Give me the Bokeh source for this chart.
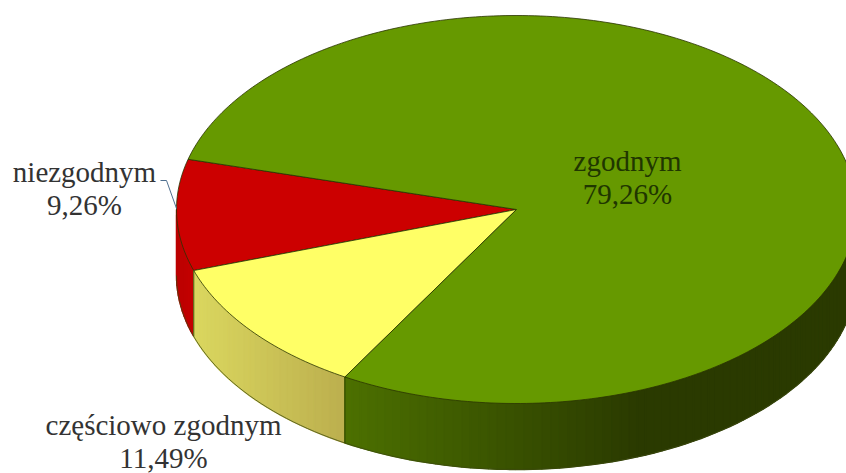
import math
from bokeh.plotting import figure
from bokeh.models import Range1d
from bokeh.core.properties import value
from bokeh.embed import file_html
from bokeh.resources import INLINE

categories = ["niezgodnym", "częściowo zgodnym", "zgodnym"]
shares = [9.26, 11.49, 79.26]
top_colors = ["#cc0000", "#ffff66", "#669900"]
side_left = ["#bb0000", "#dad75f", "#4c7000"]
side_right = ["#c40000", "#bcaf4e", "#2a3a00"]
label_x = [84, 163, 627]
label_y = [171, 424, 160]
label_colors = ["#333333", "#333333", "#203600"]

CX, CY, RX, RY, DEPTH = 516, 209, 340, 194, 66
START = 165.0
FONT = "Liberation Serif"
SHADE_END_X = {0: 194, 1: 345, 2: 640}
SHADE_START_X = {0: 176, 1: 194, 2: 345}


def rim(t):
    r = math.radians(t)
    return CX + RX * math.cos(r), CY - RY * math.sin(r)


def mix(a, b, f):
    f = max(0.0, min(1.0, f))
    ca = [int(a[i:i + 2], 16) for i in (1, 3, 5)]
    cb = [int(b[i:i + 2], 16) for i in (1, 3, 5)]
    return "#%02x%02x%02x" % tuple(round(u + (v - u) * f) for u, v in zip(ca, cb))


total = sum(shares)
bounds = []
a = START
for s in shares:
    bounds.append((a, a + s / total * 360.0))
    a = bounds[-1][1]

p = figure(width=846, height=473, output_backend="svg", toolbar_location=None,
           x_range=Range1d(0, 846), y_range=Range1d(473, 0), min_border=0,
           x_axis_type=None, y_axis_type=None, outline_line_color=None,
           background_fill_color="white", border_fill_color="white")
p.grid.visible = False

# side wall, as narrow shaded strips over the visible half
sx, sy, sc = [], [], []
bx, by = [], []
for i, (lo, hi) in enumerate(bounds):
    lo2, hi2 = max(lo, 180.0), min(hi, 360.0)
    if hi2 <= lo2:
        continue
    n = max(1, int((hi2 - lo2) / 1.5))
    ts = [lo2 + (hi2 - lo2) * k / n for k in range(n + 1)]
    for t0, t1 in zip(ts[:-1], ts[1:]):
        x0, y0 = rim(t0)
        x1, y1 = rim(t1)
        sx.append([x0, x1, x1, x0])
        sy.append([y0, y1, y1 + DEPTH, y0 + DEPTH])
        f = ((x0 + x1) / 2 - SHADE_START_X[i]) / (SHADE_END_X[i] - SHADE_START_X[i])
        sc.append(mix(side_left[i], side_right[i], f))
    bx.append([rim(t)[0] for t in ts])
    by.append([rim(t)[1] + DEPTH for t in ts])
p.patches(sx, sy, fill_color=sc, line_color=sc, line_width=1.4)
p.multi_line(bx, by, line_color="#3d4a10", line_width=0.9, line_alpha=0.85)

# vertical seams between wall pieces
for t in [bounds[1][0], bounds[2][0]]:
    x, y = rim(t)
    p.line([x, x], [y, y + DEPTH], line_color="#2f3f00", line_width=0.9)

# top face
tx, ty = [], []
for lo, hi in bounds:
    n = max(2, int(hi - lo))
    pts = [rim(lo + (hi - lo) * k / n) for k in range(n + 1)]
    tx.append([CX] + [q[0] for q in pts])
    ty.append([CY] + [q[1] for q in pts])
p.patches(tx, ty, fill_color=top_colors, line_color="#2a3300", line_width=0.8)

# leader for the small slice
p.line([160, 166, 176], [180, 180, 208], line_color="#4f6f8f", line_width=1)

texts_x, texts_y, texts, cols = [], [], [], []
for c, s, x, y, col in zip(categories, shares, label_x, label_y, label_colors):
    texts_x += [x, x]
    texts_y += [y, y + 33]
    texts += [c, f"{s:.2f}".replace(".", ",") + "%"]
    cols += [col, col]
p.text(texts_x, texts_y, text=texts, text_color=cols, text_align="center",
       text_baseline="alphabetic", text_font=value(FONT), text_font_size="29px")

open("out.html", "w").write(file_html(p, INLINE))
